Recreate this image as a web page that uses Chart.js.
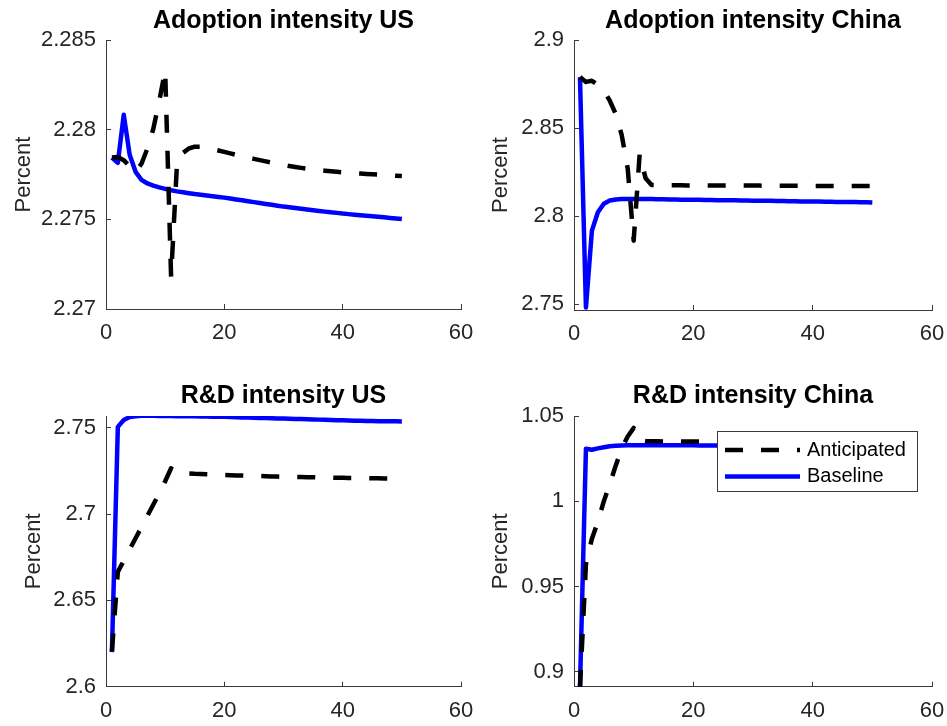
<!DOCTYPE html>
<html>
<head>
<meta charset="utf-8">
<script src="https://cdn.jsdelivr.net/npm/chart.js@4.4.1/dist/chart.umd.min.js"></script>
<style>
  html, body { margin: 0; padding: 0; background: #fff; overflow: hidden; }
  #wrap { position: relative; width: 947px; height: 726px; overflow: hidden; }
  canvas { position: absolute; }
</style>
</head>
<body>
<div id="wrap">
  <canvas id="adoptUS" width="490" height="363" style="left:0px;top:0px"></canvas>
  <canvas id="adoptCN" width="491" height="363" style="left:470px;top:0px"></canvas>
  <canvas id="rdUS" width="490" height="363" style="left:0px;top:363px"></canvas>
  <canvas id="rdCN" width="491" height="363" style="left:470px;top:363px"></canvas>
</div>
<script>
const periods = [1, 2, 3, 4, 5, 6, 7, 8, 9, 10, 11, 12, 13, 14, 15, 16, 17, 18, 19, 20,
  21, 22, 23, 24, 25, 26, 27, 28, 29, 30, 31, 32, 33, 34, 35, 36, 37, 38, 39, 40,
  41, 42, 43, 44, 45, 46, 47, 48, 49, 50];
const seriesNames = ['Anticipated', 'Baseline'];

const adoptUSAnticipated = [2.27845, 2.27848, 2.27830, 2.27795, 2.27765, 2.27810, 2.27895, 2.28005, 2.28160, 2.28330,
  2.27180, 2.27810, 2.27870, 2.27895, 2.27905, 2.27905, 2.27900, 2.27892, 2.27884, 2.27876,
  2.27868, 2.27860, 2.27852, 2.27844, 2.27837, 2.27830, 2.27823, 2.27816, 2.27809, 2.27803,
  2.27797, 2.27792, 2.27787, 2.27782, 2.27778, 2.27774, 2.27771, 2.27768, 2.27765, 2.27762,
  2.27760, 2.27757, 2.27755, 2.27753, 2.27751, 2.27749, 2.27747, 2.27745, 2.27743, 2.27741];
const adoptUSBaseline = [2.27845, 2.27815, 2.28083, 2.27860, 2.27765, 2.27720, 2.27700, 2.27688, 2.27678, 2.27670,
  2.27662, 2.27656, 2.27651, 2.27646, 2.27641, 2.27637, 2.27633, 2.27629, 2.27625, 2.27621,
  2.27616, 2.27611, 2.27606, 2.27601, 2.27596, 2.27591, 2.27586, 2.27581, 2.27576, 2.27571,
  2.27567, 2.27563, 2.27559, 2.27555, 2.27551, 2.27547, 2.27543, 2.27539, 2.27536, 2.27532,
  2.27529, 2.27526, 2.27523, 2.27520, 2.27517, 2.27514, 2.27511, 2.27508, 2.27505, 2.27502];

const adoptCNAnticipated = [2.8790, 2.8762, 2.8768, 2.8745, 2.8712, 2.8655, 2.8580, 2.8460, 2.8270, 2.7860,
  2.8350, 2.8215, 2.8176, 2.8175, 2.8175, 2.8175, 2.8175, 2.8175, 2.8174, 2.8174,
  2.8174, 2.8174, 2.8174, 2.8174, 2.8173, 2.8173, 2.8173, 2.8173, 2.8173, 2.8173,
  2.8173, 2.8172, 2.8172, 2.8172, 2.8172, 2.8172, 2.8172, 2.8172, 2.8172, 2.8171,
  2.8171, 2.8171, 2.8171, 2.8171, 2.8171, 2.8171, 2.8171, 2.8171, 2.8170, 2.8170];
const adoptCNBaseline = [2.8788, 2.7480, 2.7917, 2.8021, 2.8070, 2.8088, 2.8094, 2.8096, 2.8097, 2.8097,
  2.8097, 2.8096, 2.8096, 2.8095, 2.8095, 2.8094, 2.8094, 2.8093, 2.8093, 2.8092,
  2.8092, 2.8091, 2.8091, 2.8090, 2.8090, 2.8089, 2.8089, 2.8088, 2.8088, 2.8087,
  2.8087, 2.8086, 2.8086, 2.8085, 2.8085, 2.8084, 2.8084, 2.8083, 2.8083, 2.8082,
  2.8082, 2.8081, 2.8081, 2.8080, 2.8080, 2.8079, 2.8079, 2.8078, 2.8078, 2.8077];

const rdUSAnticipated = [2.6205, 2.6665, 2.6730, 2.6795, 2.6860, 2.6925, 2.6990, 2.7055, 2.7120, 2.7190,
  2.7265, 2.7238, 2.7236, 2.7235, 2.7233, 2.7232, 2.7230, 2.7229, 2.7228, 2.7226,
  2.7225, 2.7224, 2.7223, 2.7222, 2.7221, 2.7220, 2.7219, 2.7218, 2.7217, 2.7216,
  2.7215, 2.7215, 2.7214, 2.7213, 2.7213, 2.7212, 2.7211, 2.7211, 2.7210, 2.7210,
  2.7209, 2.7209, 2.7208, 2.7208, 2.7207, 2.7207, 2.7206, 2.7206, 2.7205, 2.7205];
const rdUSBaseline = [2.6200, 2.7505, 2.7545, 2.7562, 2.7567, 2.7569, 2.7569, 2.7569, 2.7568, 2.7568,
  2.7568, 2.7567, 2.7567, 2.7566, 2.7566, 2.7565, 2.7565, 2.7564, 2.7564, 2.7563,
  2.7562, 2.7561, 2.7560, 2.7559, 2.7558, 2.7557, 2.7556, 2.7555, 2.7554, 2.7553,
  2.7552, 2.7551, 2.7550, 2.7549, 2.7548, 2.7547, 2.7546, 2.7545, 2.7544, 2.7543,
  2.7542, 2.7541, 2.7540, 2.7539, 2.7539, 2.7538, 2.7538, 2.7537, 2.7537, 2.7536];

const rdCNAnticipated = [0.8905, 0.9630, 0.9780, 0.9880, 1.0000, 1.0100, 1.0210, 1.0310, 1.0380, 1.0430,
  1.0358, 1.0353, 1.0352, 1.0352, 1.0351, 1.0351, 1.0351, 1.0350, 1.0350, 1.0350,
  1.0350, 1.0349, 1.0349, 1.0349, 1.0349, 1.0348, 1.0348, 1.0348, 1.0348, 1.0347,
  1.0347, 1.0347, 1.0347, 1.0346, 1.0346, 1.0346, 1.0346, 1.0345, 1.0345, 1.0345,
  1.0345, 1.0345, 1.0344, 1.0344, 1.0344, 1.0344, 1.0344, 1.0343, 1.0343, 1.0343];
const rdCNBaseline = [0.8905, 1.0308, 1.0302, 1.0310, 1.0317, 1.0322, 1.0325, 1.0327, 1.0328, 1.0329,
  1.0329, 1.0329, 1.0329, 1.0329, 1.0329, 1.0328, 1.0328, 1.0328, 1.0328, 1.0328,
  1.0327, 1.0327, 1.0327, 1.0327, 1.0326, 1.0326, 1.0326, 1.0326, 1.0325, 1.0325,
  1.0325, 1.0325, 1.0324, 1.0324, 1.0324, 1.0324, 1.0324, 1.0323, 1.0323, 1.0323,
  1.0323, 1.0323, 1.0322, 1.0322, 1.0322, 1.0322, 1.0322, 1.0321, 1.0321, 1.0321];

const xTicks = [0, 20, 40, 60];
const adoptUSTicks = [2.27, 2.275, 2.28, 2.285];
const adoptCNTicks = [2.75, 2.8, 2.85, 2.9];
const rdUSTicks = [2.6, 2.65, 2.7, 2.75];
const rdCNTicks = [0.9, 0.95, 1, 1.05];

const FONT = '"Liberation Sans", Arial, Helvetica, sans-serif';
const AXIS_COLOR = '#3a3a3a';
const TEXT_COLOR = '#262626';
Chart.defaults.font.family = FONT;

// matlab style legend box, drawn inside the plot
const boxLegend = {
  id: 'boxLegend',
  afterDraw(chart) {
    const { ctx, chartArea } = chart;
    const w = 200, h = 60;
    const left = Math.round(chartArea.right - 15 - w);
    const top = Math.round(chartArea.top + 15);
    ctx.save();
    ctx.fillStyle = '#fff';
    ctx.fillRect(left, top, w, h);
    ctx.strokeStyle = AXIS_COLOR;
    ctx.lineWidth = 1;
    ctx.strokeRect(left + 0.5, top + 0.5, w, h);
    chart.data.datasets.forEach((ds, i) => {
      const y = top + 19 + i * 26.5;
      ctx.beginPath();
      ctx.setLineDash(ds.borderDash || []);
      ctx.lineWidth = ds.borderWidth;
      ctx.strokeStyle = ds.borderColor;
      ctx.lineCap = 'butt';
      ctx.moveTo(left + 8, y);
      ctx.lineTo(left + 83, y);
      ctx.stroke();
      ctx.setLineDash([]);
      ctx.fillStyle = '#000';
      ctx.font = '20px ' + FONT;
      ctx.textBaseline = 'middle';
      ctx.textAlign = 'left';
      ctx.fillText(ds.label, left + 90, y);
    });
    ctx.restore();
  }
};

function makePanel(id, title, antic, base, yMin, yMax, yTicks, geo, withLegend) {
  const pts = arr => periods.map((p, i) => ({ x: p, y: arr[i] }));
  const canvas = document.getElementById(id);
  const tickStyle = { color: TEXT_COLOR, font: { size: 22 }, autoSkip: false, maxRotation: 0, callback: v => String(v) };
  const gridStyle = { drawOnChartArea: false, drawTicks: true, tickLength: -5, color: AXIS_COLOR, lineWidth: 1 };
  const borderStyle = { display: true, color: AXIS_COLOR, width: 1 };

  return new Chart(canvas, {
    type: 'line',
    data: {
      datasets: [
        { label: seriesNames[0], data: pts(antic), borderColor: '#000000', borderWidth: 4.5, borderDash: [18, 18] },
        { label: seriesNames[1], data: pts(base), borderColor: '#0000ff', borderWidth: 4.5 }
      ]
    },
    options: {
      responsive: false,
      animation: false,
      devicePixelRatio: 1,
      layout: { padding: { left: 0, right: geo.padRight, top: 0, bottom: 0 } },
      elements: {
        point: { radius: 0 },
        line: { tension: 0, fill: false, borderJoinStyle: 'round', borderCapStyle: 'butt' }
      },
      plugins: {
        legend: { display: false },
        tooltip: { enabled: false },
        title: {
          display: true,
          text: title,
          fullSize: false,
          color: '#000',
          font: { size: 25, weight: 'bold' },
          padding: { top: geo.titlePadTop, bottom: geo.chartTop - 30 - geo.titlePadTop }
        }
      },
      scales: {
        x: {
          type: 'linear',
          position: 'bottom',
          min: 0,
          max: 60,
          afterBuildTicks: s => { s.ticks = xTicks.map(v => ({ value: v })); },
          afterFit: s => { s.height = canvas.height - geo.chartBottom; },
          ticks: { ...tickStyle, padding: 16 },
          grid: gridStyle,
          border: borderStyle
        },
        y: {
          type: 'linear',
          position: 'left',
          min: yMin,
          max: yMax,
          afterBuildTicks: s => { s.ticks = yTicks.map(v => ({ value: v })); },
          afterFit: s => { s.width = geo.axisLeft; },
          ticks: { ...tickStyle, padding: 15 },
          grid: gridStyle,
          border: borderStyle,
          title: { display: true, text: 'Percent', color: TEXT_COLOR, font: { size: 22 }, padding: { top: geo.yTitlePad, bottom: 0 } }
        }
      }
    },
    plugins: withLegend ? [boxLegend] : []
  });
}

// right padding has to cover the "60" label plus tick padding
makePanel('adoptUS', 'Adoption intensity US', adoptUSAnticipated, adoptUSBaseline, 2.27, 2.285, adoptUSTicks,
  { axisLeft: 106, chartTop: 40, chartBottom: 309, padRight: 29, titlePadTop: 6.3, yTitlePad: 10.5 }, false);
makePanel('adoptCN', 'Adoption intensity China', adoptCNAnticipated, adoptCNBaseline, 2.7466, 2.9, adoptCNTicks,
  { axisLeft: 104, chartTop: 40, chartBottom: 310, padRight: 29, titlePadTop: 6.3, yTitlePad: 17.5 }, false);
makePanel('rdUS', 'R&D intensity US', rdUSAnticipated, rdUSBaseline, 2.6, 2.7568, rdUSTicks,
  { axisLeft: 106, chartTop: 53, chartBottom: 323.7, padRight: 29, titlePadTop: 18.3, yTitlePad: 20.5 }, false);
makePanel('rdCN', 'R&D intensity China', rdCNAnticipated, rdCNBaseline, 0.8912, 1.05, rdCNTicks,
  { axisLeft: 104, chartTop: 53, chartBottom: 323.7, padRight: 29, titlePadTop: 18.3, yTitlePad: 17.5 }, true);
</script>
</body>
</html>
